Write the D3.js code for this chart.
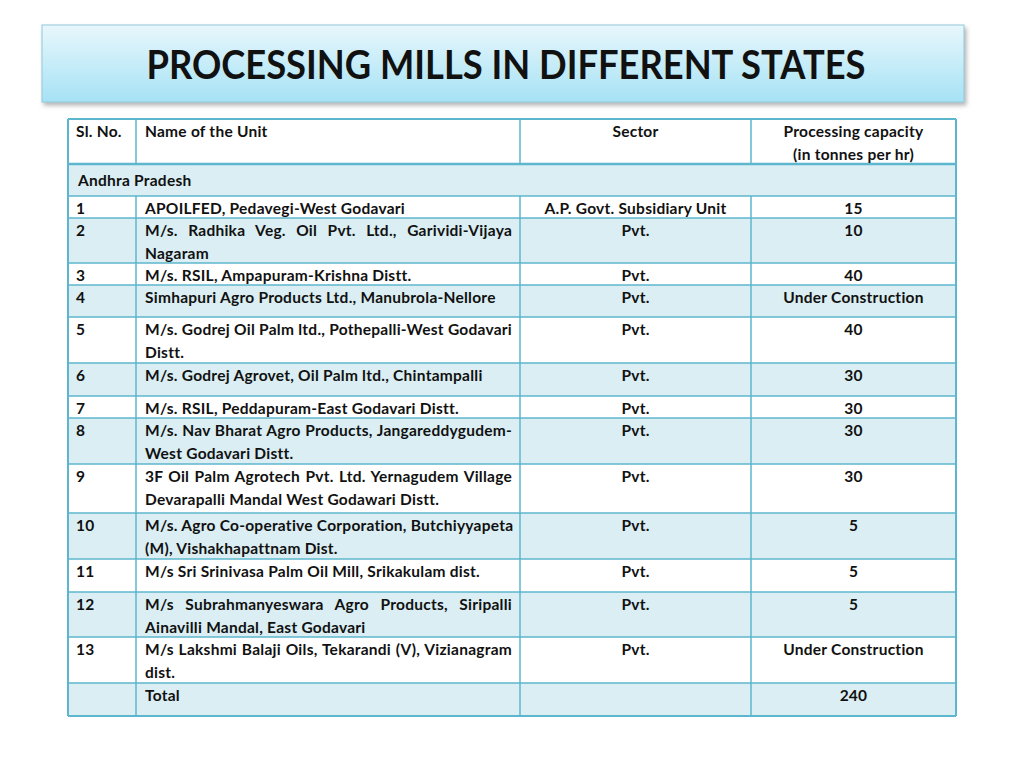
<!DOCTYPE html>
<html>
<head>
<meta charset="utf-8">
<script src="https://cdn.jsdelivr.net/npm/d3@7/dist/d3.min.js"></script>
<style>
  html, body { margin: 0; padding: 0; background: #ffffff; }
  svg { display: block; }
  text { font-family: Lato, "Open Sans", sans-serif; font-weight: 700; fill: #111; }
</style>
</head>
<body>
<svg id="chart" width="1024" height="768"></svg>
<script>
// ---------------- data ----------------
const title = "PROCESSING MILLS IN DIFFERENT STATES";
const headers = ["Sl. No.", "Name of the Unit", "Sector", "Processing capacity\n(in tonnes per hr)"];
const stateName = "Andhra Pradesh";
const slNo = ["1","2","3","4","5","6","7","8","9","10","11","12","13"];
const unitNames = [
  "APOILFED, Pedavegi-West Godavari",
  "M/s. Radhika Veg. Oil Pvt. Ltd., Garividi-Vijaya\nNagaram",
  "M/s. RSIL, Ampapuram-Krishna Distt.",
  "Simhapuri Agro Products Ltd., Manubrola-Nellore",
  "M/s. Godrej Oil Palm ltd., Pothepalli-West Godavari\nDistt.",
  "M/s. Godrej Agrovet, Oil Palm ltd., Chintampalli",
  "M/s. RSIL, Peddapuram-East Godavari Distt.",
  "M/s. Nav Bharat Agro Products, Jangareddygudem-\nWest Godavari Distt.",
  "3F Oil Palm Agrotech Pvt. Ltd. Yernagudem Village\nDevarapalli Mandal West Godawari Distt.",
  "M/s. Agro Co-operative Corporation, Butchiyyapeta\n(M), Vishakhapattnam Dist.",
  "M/s Sri Srinivasa Palm Oil Mill, Srikakulam dist.",
  "M/s Subrahmanyeswara Agro Products, Siripalli\nAinavilli Mandal, East Godavari",
  "M/s Lakshmi Balaji Oils, Tekarandi (V), Vizianagram\ndist."
];
const sectors = ["A.P. Govt. Subsidiary Unit","Pvt.","Pvt.","Pvt.","Pvt.","Pvt.","Pvt.","Pvt.","Pvt.","Pvt.","Pvt.","Pvt.","Pvt."];
const capacities = ["15","10","40","Under Construction","40","30","30","30","30","5","5","5","Under Construction"];
const totalLabel = "Total";
const totalCapacity = "240";

// ---------------- layout ----------------
const colEdges = [68, 136, 520, 751, 956];
const rowHeights = [45, 32, 22, 45, 22, 32, 46, 33, 22, 46, 49, 46, 33, 45, 46, 33]; // header, state, 13 units, total
const tableTop = 119;
const lineH = 23;
const fs = 15.5;
const borderColor = "#5cb6cd";
const fillColor = "#daeef3";

const svg = d3.select("#chart");
const defs = svg.append("defs");

// title gradient + shadow
const grad = defs.append("linearGradient").attr("id", "tgrad").attr("x1", 0).attr("y1", 0).attr("x2", 0).attr("y2", 1);
grad.append("stop").attr("offset", "0%").attr("stop-color", "#e8f7fc");
grad.append("stop").attr("offset", "100%").attr("stop-color", "#a6e2f5");
const filt = defs.append("filter").attr("id", "shadow").attr("x", "-5%").attr("y", "-20%").attr("width", "110%").attr("height", "150%");
filt.append("feDropShadow").attr("dx", 2).attr("dy", 3).attr("stdDeviation", 2).attr("flood-color", "#777").attr("flood-opacity", 0.55);

svg.append("rect")
  .attr("x", 42).attr("y", 25).attr("width", 922).attr("height", 77)
  .attr("fill", "url(#tgrad)").attr("stroke", "#92cadb").attr("stroke-width", 1)
  .attr("filter", "url(#shadow)");

svg.append("text")
  .attr("x", 506).attr("y", 79)
  .attr("text-anchor", "middle")
  .style("font-size", "40px")
  .style("font-weight", 700)
  .attr("textLength", 719).attr("lengthAdjust", "spacingAndGlyphs")
  .text(title);

// ---------------- table geometry via scales ----------------
const rowTops = [tableTop, ...d3.cumsum(rowHeights).map(v => tableTop + v)];
const rowIndex = d3.range(rowHeights.length);
const yTop = d3.scaleOrdinal().domain(rowIndex).range(rowTops.slice(0, -1));
const yH = d3.scaleOrdinal().domain(rowIndex).range(rowHeights);
const colIndex = d3.range(4);
const xL = d3.scaleOrdinal().domain(colIndex).range(colEdges.slice(0, -1));
const xR = d3.scaleOrdinal().domain(colIndex).range(colEdges.slice(1));

const rows = [];
rows.push({ kind: "header", cells: headers });
rows.push({ kind: "state", cells: [stateName] });
slNo.forEach((s, i) => rows.push({ kind: "unit", cells: [s, unitNames[i], sectors[i], capacities[i]] }));
rows.push({ kind: "total", cells: ["", totalLabel, "", totalCapacity] });

const g = svg.append("g");

g.selectAll("rect.rowbg").data(rows).join("rect")
  .attr("class", "rowbg")
  .attr("x", colEdges[0]).attr("width", colEdges[4] - colEdges[0])
  .attr("y", (d, i) => yTop(i)).attr("height", (d, i) => yH(i))
  .attr("fill", (d, i) => i % 2 === 1 ? fillColor : "#ffffff");

const hLines = g.append("g");
rowTops.forEach((y, i) => {
  const w = (i === 1) ? 2.5 : (i === 0 || i === rowTops.length - 1 ? 2 : 1.5);
  hLines.append("line").attr("x1", colEdges[0]).attr("x2", colEdges[4])
    .attr("y1", y).attr("y2", y).attr("stroke", borderColor).attr("stroke-width", w);
});
colEdges.forEach((x, j) => {
  const outer = j === 0 || j === colEdges.length - 1;
  if (outer) {
    g.append("line").attr("x1", x).attr("x2", x).attr("y1", rowTops[0]).attr("y2", rowTops[rowTops.length - 1])
      .attr("stroke", borderColor).attr("stroke-width", 2);
  } else {
    g.append("line").attr("x1", x).attr("x2", x).attr("y1", rowTops[0]).attr("y2", rowTops[1])
      .attr("stroke", borderColor).attr("stroke-width", 1.5);
    g.append("line").attr("x1", x).attr("x2", x).attr("y1", rowTops[2]).attr("y2", rowTops[rowTops.length - 1])
      .attr("stroke", borderColor).attr("stroke-width", 1.5);
  }
});

const tg = svg.append("g").style("font-size", fs + "px").style("letter-spacing", "0.25px");
function addText(str, col, rowI, opts) {
  const lines = str.split("\n");
  const top = yTop(rowI);
  const dy = (opts && opts.dy) || 18;
  lines.forEach((ln, k) => {
    const y = top + dy + k * lineH;
    let t;
    if (col === 2 || col === 3) {
      t = tg.append("text").attr("x", (xL(col) + xR(col)) / 2).attr("y", y).attr("text-anchor", "middle").text(ln);
    } else {
      const x0 = xL(col) + (opts && opts.pad != null ? opts.pad : 9);
      t = tg.append("text").attr("x", x0).attr("y", y).text(ln);
      if (col === 1 && k < lines.length - 1) {
        const target = xR(col) - 8 - x0;
        const nat = t.node().getComputedTextLength();
        const nGaps = ln.split(" ").length - 1;
        if (nGaps > 0 && target > nat) {
          t.style("word-spacing", ((target - nat) / nGaps) + "px");
        }
      }
    }
  });
}

rows.forEach((r, i) => {
  if (r.kind === "state") {
    addText(r.cells[0], 0, i, { pad: 10, dy: 22 });
    return;
  }
  r.cells.forEach((c, j) => { if (c) addText(c, j, i, { pad: j === 0 ? 8 : 9 }); });
});
</script>
</body>
</html>
